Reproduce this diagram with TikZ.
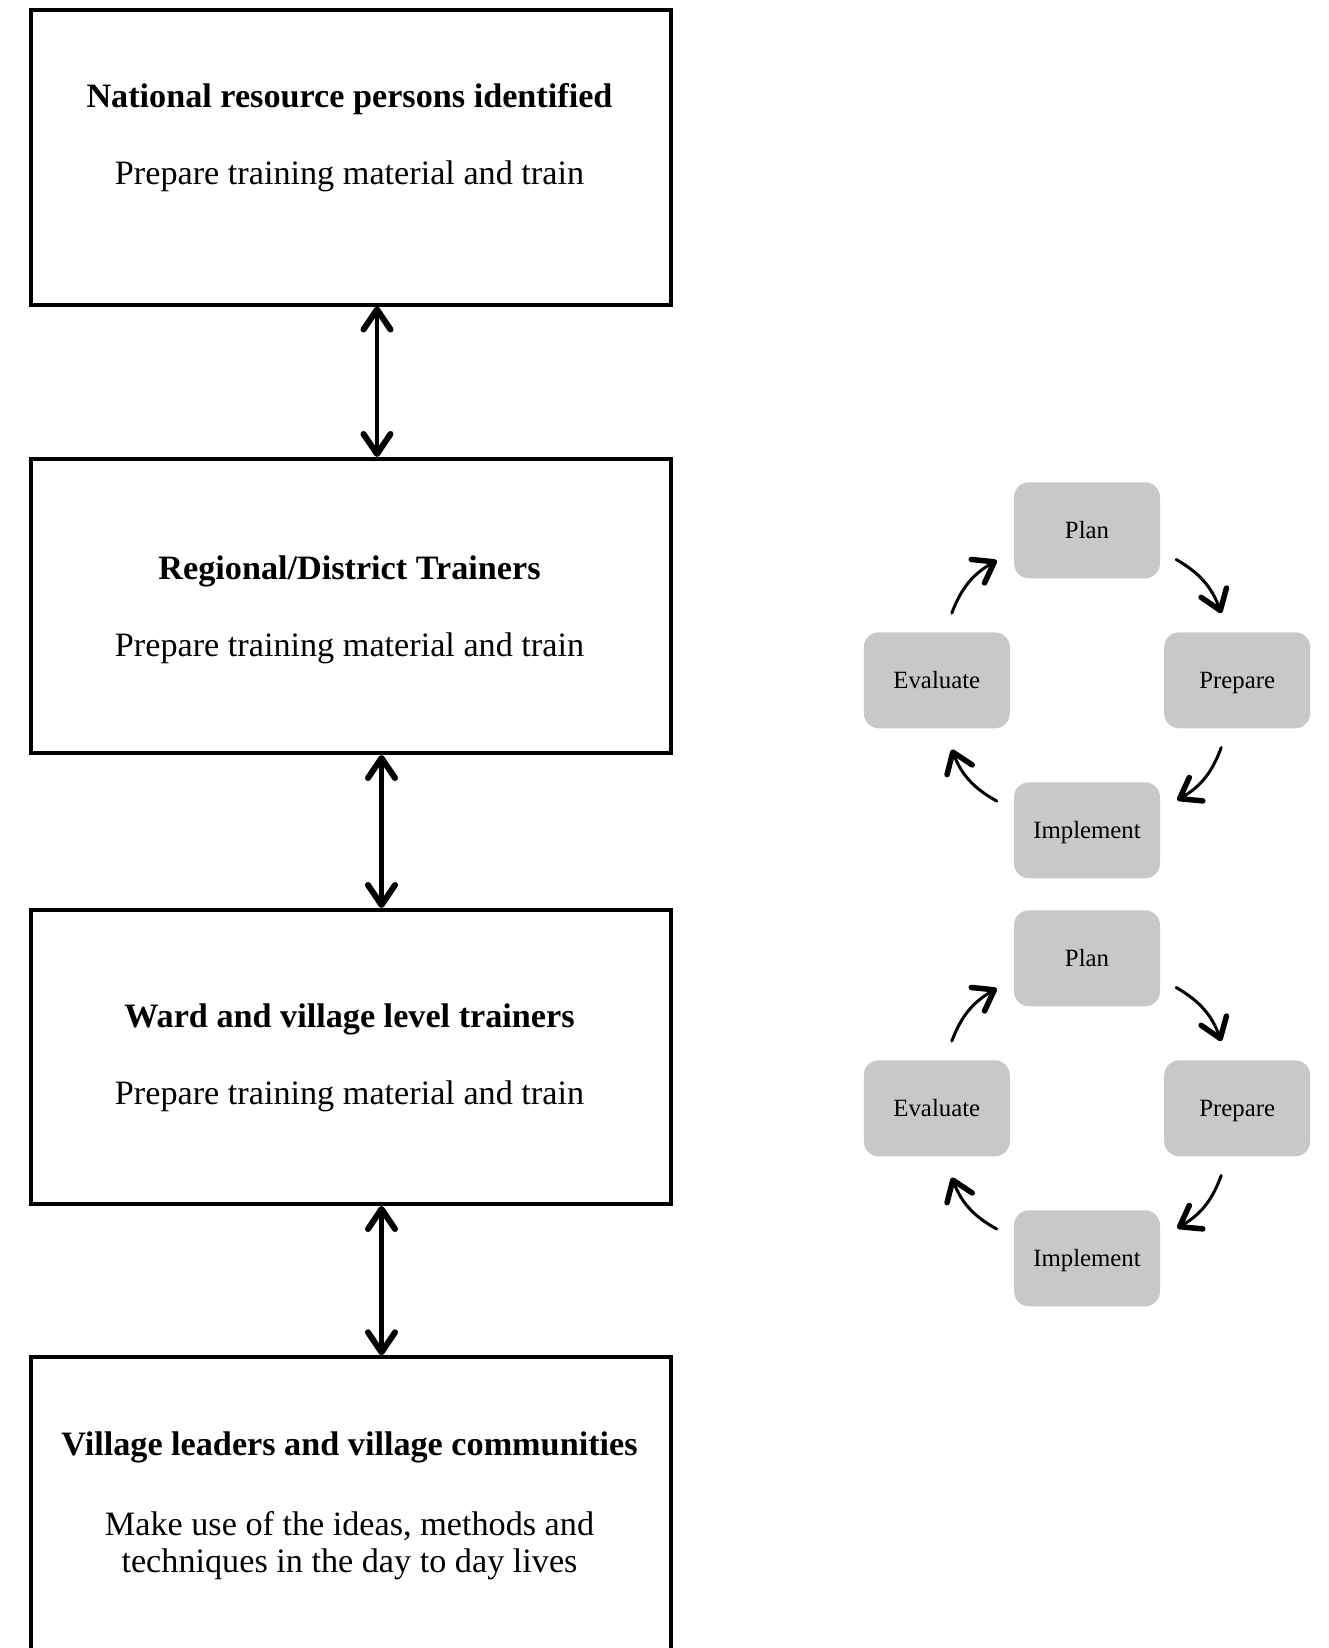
\documentclass[tikz,border=0pt]{standalone}
\usepackage{fontspec}
\setmainfont{Liberation Serif}
\usetikzlibrary{arrows.meta,calc}
\definecolor{phasegray}{RGB}{200,200,200}

\begin{document}
\begin{tikzpicture}[x=1pt,y=-1pt,
  tier/.style={draw=black, line width=4pt, minimum width=640pt,
    minimum height=294pt, inner sep=0pt, anchor=north west},
  headtxt/.style={font=\fontsize{34.2}{37}\selectfont\bfseries,
    anchor=base, inner sep=0pt},
  bodytxt/.style={font=\fontsize{34.2}{36.8}\selectfont,
    anchor=base, inner sep=0pt, align=center},
  barb/.tip={Straight Barb[length=20pt,width=27pt,line width=6pt,round]},
  smallbarb/.tip={Straight Barb[length=19pt,width=27pt,line width=5.5pt,round]},
  link/.style={line width=4.6pt, barb-barb},
  phase/.style={fill=phasegray, rounded corners=15pt, minimum width=146pt,
    minimum height=96pt, inner sep=0pt,
    font=\fontsize{24.8}{28}\selectfont, text height=16.4pt, text depth=0pt},
  turn/.style={line width=3pt, -smallbarb, line cap=round, bend left=20},
]
\clip (0,0) rectangle (1328,1648);
\fill[white] (0,0) rectangle (1328,1648);

% training tiers
\node[tier] (t1) at (28.5,8.5) {};
\node[tier] (t2) at (28.5,457) {};
\node[tier] (t3) at (28.5,908) {};
\node[tier] (t4) at (28.5,1355.3) {};

\node[headtxt] (h1) at (349.5,107.3) {National resource persons identified};
\node[bodytxt] (b1) at (349.5,184.5) {Prepare training material and train};
\node[headtxt] (h2) at (349.5,579) {Regional/District Trainers};
\node[bodytxt] (b2) at (349.5,656.2) {Prepare training material and train};
\node[headtxt] (h3) at (349.5,1027.6) {Ward and village level trainers};
\node[bodytxt] (b3) at (349.5,1104.8) {Prepare training material and train};
\node[headtxt] (h4) at (349.5,1455.5) {Village leaders and village communities};
\node[bodytxt] (b4a) at (349.5,1535.3) {Make use of the ideas, methods and};
\node[bodytxt] (b4b) at (349.5,1572.1) {techniques in the day to day lives};

% links between tiers
\draw[link] ([xshift=26.5pt]t1.south) -- ([xshift=26.5pt]t2.north);
\draw[link] ([xshift=31pt]t2.south) -- ([xshift=31pt]t3.north);
\draw[link] ([xshift=31pt]t3.south) -- ([xshift=31pt]t4.north);

% two plan-prepare-implement-evaluate cycles
\foreach \k/\dy in {a/0, b/428} {
  \node[phase] (plan\k) at (1087,530.3+\dy) {Plan};
  \node[phase] (prep\k) at (1237.2,680.3+\dy) {Prepare};
  \node[phase] (impl\k) at (1087,830.3+\dy) {Implement};
  \node[phase] (eval\k) at (936.8,680.3+\dy) {Evaluate};

  \draw[turn] ([shift={(16,-19)}]plan\k.south east) to ([shift={(-16,-19)}]prep\k.north);
  \draw[turn] ([shift={(-16,19)}]prep\k.south) to ([shift={(17,18)}]impl\k.north east);
  \draw[turn] ([shift={(-17,19)}]impl\k.north west) to ([shift={(15,21)}]eval\k.south);
  \draw[turn] ([shift={(15,-19)}]eval\k.north) to ([shift={(-17,-18)}]plan\k.south west);
}
\end{tikzpicture}
\end{document}
